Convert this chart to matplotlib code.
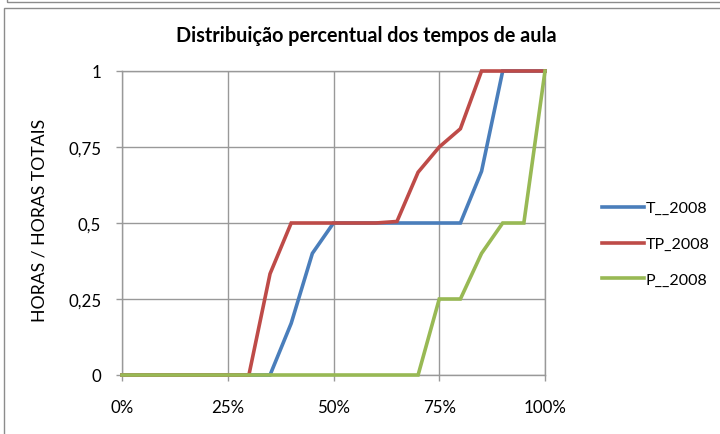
import matplotlib
matplotlib.use("Agg")
import matplotlib.pyplot as plt
from matplotlib.patches import Rectangle

plt.rcParams['font.family'] = ['Lato', 'DejaVu Sans']

x_pct = [0, 5, 10, 15, 20, 25, 30, 35, 40, 45, 50, 55, 60, 65, 70, 75, 80, 85, 90, 95, 100]
t_2008 = [0, 0, 0, 0, 0, 0, 0, 0, 0.17, 0.40, 0.5, 0.5, 0.5, 0.5, 0.5, 0.5, 0.5, 0.67, 1, 1, 1]
tp_2008 = [0, 0, 0, 0, 0, 0, 0, 0.333, 0.5, 0.5, 0.5, 0.5, 0.5, 0.505, 0.667, 0.75, 0.81, 1, 1, 1, 1]
p_2008 = [0, 0, 0, 0, 0, 0, 0, 0, 0, 0, 0, 0, 0, 0, 0, 0.25, 0.25, 0.40, 0.5, 0.5, 1]

series_names = ["T__2008", "TP_2008", "P__2008"]
colors = ["#4A7EBB", "#BE4B48", "#98B954"]
x_ticks = [0, 25, 50, 75, 100]
x_tick_labels = ["0%", "25%", "50%", "75%", "100%"]
y_ticks = [0, 0.25, 0.5, 0.75, 1]
y_tick_labels = ["0", "0,25", "0,5", "0,75", "1"]

W, H = 720, 435
fig = plt.figure(figsize=(W / 100, H / 100), dpi=100)

# frames
fig.patches.append(Rectangle((7 / W, 1 - 3 / H), 1, 0.2, transform=fig.transFigure,
                             fill=False, edgecolor="#8c8c8c", linewidth=1.0))
fig.patches.append(Rectangle((4 / W, -0.1), 1, 1 - 8.5 / H + 0.1, transform=fig.transFigure,
                             fill=False, edgecolor="#8c8c8c", linewidth=1.0))

ax = fig.add_axes([122 / W, (H - 376) / H, (545 - 122) / W, (376 - 72) / H])
for vals, name, c in zip([t_2008, tp_2008, p_2008], series_names, colors):
    ax.plot(x_pct, vals, color=c, linewidth=2.6, label=name, solid_joinstyle='miter', clip_on=False, zorder=3)

ax.set_xlim(0, 100)
ax.set_ylim(0, 1)
ax.set_xticks(x_ticks)
ax.set_xticklabels(x_tick_labels)
ax.set_yticks(y_ticks)
ax.set_yticklabels(y_tick_labels)
ax.grid(True, color="#999999", linewidth=1.0)
for s in ax.spines.values():
    s.set_color("#999999")
    s.set_linewidth(1.0)
ax.tick_params(axis='both', direction='out', length=4, width=1, color="#999999",
               labelsize=12.2, labelcolor="black")
ax.tick_params(axis='x', pad=13)
ax.tick_params(axis='y', pad=11)

fig.text(366 / W, 1 - 36 / H, "Distribuição percentual dos tempos de aula",
         ha='center', va='center', fontsize=14.2, fontweight='bold')
fig.text(40 / W, 1 - 220 / H, "HORAS / HORAS TOTAIS", rotation=90,
         ha='center', va='center', fontsize=12.7)

ax.legend(loc='center left', bbox_to_anchor=(588 / W, 1 - 245 / H), bbox_transform=fig.transFigure,
          frameon=False, fontsize=11.5, handlelength=2.6, handletextpad=0.1, labelspacing=1.35)

fig.savefig("out.png", dpi=100)
